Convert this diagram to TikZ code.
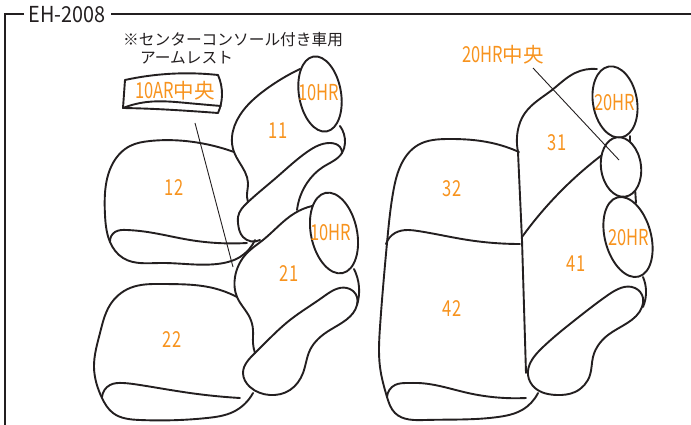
\documentclass[tikz,border=0pt]{standalone}
\usepackage{fontspec}
\usetikzlibrary{hobby}
\setmainfont{Noto Sans CJK JP}
\newfontfamily\narrowf[FakeStretch=0.75]{Noto Sans CJK JP}
\newfontfamily\midf[FakeStretch=0.9]{Noto Sans CJK JP}
\newcommand{\kj}[1]{{\rmfamily\fontsize{20.5}{20.5}\selectfont #1}}
\definecolor{lab}{HTML}{F7931E}
\definecolor{ink}{HTML}{231F20}
\tikzset{
  seat/.style={draw=ink,line width=1.9pt,line cap=round,line join=round},
  curve/.style={seat,use Hobby shortcut},
  thin/.style={draw=ink,line width=0.9pt},
  frame/.style={draw=ink,line width=2.2pt},
  lbl/.style={text=lab,font=\narrowf\fontsize{22}{22}\selectfont,inner sep=0pt,anchor=center,yshift=-1pt},
  note/.style={text=ink,font=\fontsize{15.7}{15.7}\selectfont,inner sep=0pt,anchor=west},
}
\begin{document}
\begin{tikzpicture}[x=1pt,y=-1pt]
\useasboundingbox (0,0) rectangle (691,425);
% frame
\draw[frame] (24,14) -- (5,14) -- (5,425);
\draw[frame] (111,14) -- (691,14);
\node[text=ink,font=\midf\fontsize{22}{22}\selectfont,inner sep=0pt,anchor=center] (title) at (67,15) {EH-2008};
\node[note] (n1) at (123,40) {※センターコンソール付き車用};
\node[note] (n2) at (140,58) {アームレスト};
% armrest
\draw[curve] (125,80) .. (167,74) .. (218,75);
\draw[curve] (218,75) .. (222,95) .. (218,113);
\draw[curve] (218,113) .. (190,111) .. (155,109) .. (123,108);
\draw[seat] (123,108) -- (125,80);
\draw[curve] (123,108) .. (147,102) .. (187,103) .. (221,106);
% seat 12
\draw[curve] (234,152) .. (200,143) .. (150,141) .. (130,146) .. (113,163) .. (105,193) .. (105,215) .. (110,242) .. (123,258) .. (160,263) .. (217,264) .. (240,257) .. (255,240);
\draw[curve] (110,242) .. (115,232) .. (127,230) .. (140,231) .. (190,240) .. (247,243);
% seat 11
\draw[curve] (300,69) .. (265,90) .. (240,115) .. (232,137) .. (234,152) .. (245,172) .. (248,183) .. (247,197) .. (248,202);
\draw[curve] (342,153) .. (340,147) .. (330,143) .. (307,152) .. (277,177) .. (248,202) .. (238,217) .. (238,223) .. (243,237) .. (260,240);
\draw[curve] (340,126) .. (345,143) .. (342,153) .. (323,167) .. (307,183) .. (297,210);
\draw[seat,rotate around={10:(320,94)}] (320,94) ellipse (21 and 38);
% seat 22
\draw[curve] (237,297) .. (213,288) .. (163,284) .. (130,288) .. (110,305) .. (100,333) .. (94,367) .. (102,398) .. (113,413) .. (140,420) .. (207,418) .. (233,412) .. (253,393);
\draw[curve] (102,397) .. (110,385) .. (123,383) .. (140,385) .. (190,393) .. (240,398);
% seat 21
\draw[curve] (312,206) .. (295,213) .. (263,240) .. (247,253) .. (235,277) .. (237,297) .. (250,318) .. (253,330) .. (253,343) .. (255,353);
\draw[curve] ([closed]357,297) .. (347,288) .. (323,297) .. (290,320) .. (255,353) .. (243,373) .. (250,387) .. (270,395) .. (290,390) .. (303,373) .. (310,350) .. (330,330) .. (357,305);
\draw[curve] (354,269) .. (359,287) .. (357,305);
\draw[seat,rotate around={12:(334,233)}] (334,233) ellipse (23 and 41);
% leaders
\coordinate (a1) at (195,123);
\coordinate (a2) at (233,267);
\draw[thin] (a1) -- (a2);
% seat 32 / 42
\draw[curve] (519,152) .. (492,143) .. (448,139) .. (418,145) .. (400,167) .. (393,193) .. (387,243) .. (380,327) .. (380,367) .. (387,397) .. (395,413) .. (425,420) .. (498,417) .. (522,410) .. (538,393);
\draw[curve] (386,244) .. (395,233) .. (408,230) .. (418,231) .. (468,240) .. (520,244);
\draw[curve] (387,397) .. (395,385) .. (408,383) .. (418,383) .. (468,393) .. (526,398);
% seat 31
\draw[curve] (597,69) .. (575,73) .. (552,90) .. (525,113) .. (517,137) .. (518,152);
\draw[seat] (518,152) -- (522,240) -- (526,373);
\draw[curve] (602,155) .. (562,190) .. (522,237);
\draw[seat] (630,136) -- (630,142);
\draw[seat] (635,188) -- (636,203);
\draw[seat,rotate around={10:(615,102)}] (615,102) ellipse (22 and 36);
\draw[seat,fill=white,rotate around={8:(621,167)}] (621,167) ellipse (20 and 30);
\draw[seat,rotate around={15:(628,237)}] (628,237) ellipse (23 and 41);
% seat 41
\draw[curve] ([closed]643,298) .. (635,288) .. (608,295) .. (575,320) .. (542,348) .. (528,375) .. (535,388) .. (557,395) .. (575,392) .. (590,375) .. (593,357) .. (608,335) .. (642,307);
\draw[curve] (643,277) .. (646,290) .. (643,307);
\coordinate (b1) at (533,68);
\coordinate (b2) at (619,160);
\draw[thin] (b1) -- (b2);
% labels
\node[lbl] (l1) at (175,90) {10AR\kj{中央}};
\node[lbl] (l2) at (319,92) {10HR};
\node[lbl] (l3) at (278,130) {11};
\node[lbl] (l4) at (174,187) {12};
\node[lbl] (l5) at (331,232) {10HR};
\node[lbl] (l6) at (289,273) {21};
\node[lbl] (l7) at (172,339) {22};
\node[lbl] (l8) at (503,54) {20HR\kj{中央}};
\node[lbl] (l9) at (615,102) {20HR};
\node[lbl] (l10) at (557,142) {31};
\node[lbl] (l11) at (452,188) {32};
\node[lbl] (l12) at (629,237) {20HR};
\node[lbl] (l13) at (576,263) {41};
\node[lbl] (l14) at (452,308) {42};
\end{tikzpicture}
\end{document}
